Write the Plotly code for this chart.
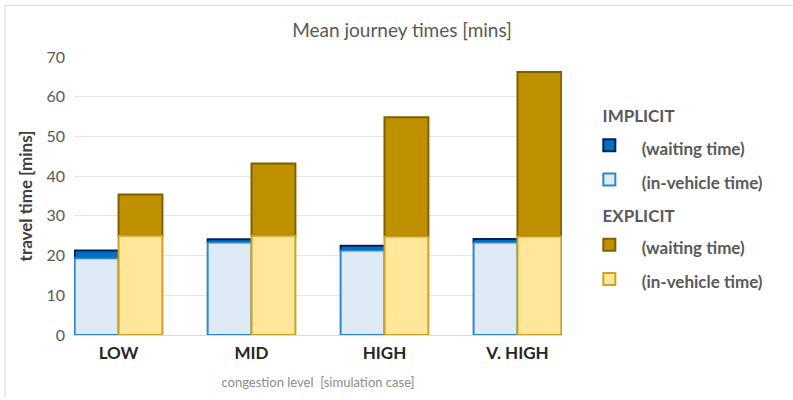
import plotly.graph_objects as go

# congestion cases and mean journey time components [mins]
cases = ["LOW", "MID", "HIGH", "V. HIGH"]
implicit_in_vehicle = [19.3, 23.3, 21.3, 23.3]
implicit_waiting = [2.0, 0.8, 1.2, 0.9]
explicit_in_vehicle = [25.0, 25.0, 24.8, 24.8]
explicit_waiting = [10.4, 18.2, 30.0, 41.4]

y_ticks = [0, 10, 20, 30, 40, 50, 60, 70]

FONT = "Lato"
GREY = "#595959"

fig = go.Figure()


def legend_label(text):
    # smaller visible text inside a tall legend row
    return ('<span style="font-size:17px">&nbsp;&nbsp;&nbsp;' + text + "</span>")


def add_bar(name, values, base, group, fill, edge, legendgroup, group_title):
    fig.add_trace(go.Bar(
        x=cases,
        y=values,
        base=base,
        name=legend_label(name),
        offsetgroup=group,
        marker=dict(color=fill, line=dict(color=edge, width=2)),
        legendgroup=legendgroup,
        legendgrouptitle=dict(text="&nbsp;&nbsp;" + group_title,
                              font=dict(family=FONT, size=17, color=GREY, weight="bold")),
        hovertemplate="%{x}: %{y}<extra></extra>",
    ))


add_bar("(waiting time)", implicit_waiting, implicit_in_vehicle, "imp",
        "#0070C0", "#002060", "implicit", "IMPLICIT")
add_bar("(in-vehicle time)", implicit_in_vehicle, None, "imp",
        "#DEEBF7", "#2E86D0", "implicit", "IMPLICIT")
add_bar("(waiting time)", explicit_waiting, explicit_in_vehicle, "exp",
        "#BF9000", "#7F6000", "explicit", "EXPLICIT")
add_bar("(in-vehicle time)", explicit_in_vehicle, None, "exp",
        "#FFE699", "#C9A227", "explicit", "EXPLICIT")

fig.update_layout(
    width=793,
    height=400,
    margin=dict(l=74, r=231, t=57, b=63),
    paper_bgcolor="white",
    plot_bgcolor="white",
    barmode="group",
    bargap=0.34,
    bargroupgap=0,
    font=dict(family=FONT, color=GREY),
    title=dict(text="Mean journey times [mins]", x=0.507, xref="container",
               y=0.925, yref="container", xanchor="center", yanchor="middle",
               font=dict(family=FONT, size=19, color=GREY)),
    xaxis=dict(
        type="category",
        range=[-0.335, 3.335],
        showgrid=False,
        showline=True,
        linecolor="#d9d9d9",
        ticks="",
        ticklabelstandoff=3,
        tickfont=dict(family=FONT, size=17, color="#262626", weight="bold"),
        title=dict(text="congestion level  [simulation case]",
                   font=dict(family=FONT, size=13, color="#8c8c8c"), standoff=15),
    ),
    yaxis=dict(
        range=[0, 70],
        tickvals=y_ticks,
        showgrid=True,
        gridcolor="#e6e6e6",
        gridwidth=1,
        zeroline=False,
        showline=False,
        ticks="",
        ticklabelstandoff=8,
        tickfont=dict(family=FONT, size=16, color=GREY),
        title=dict(text="travel time [mins]",
                   font=dict(family=FONT, size=17, color="#404040", weight="bold"),
                   standoff=9),
    ),
    legend=dict(
        x=1.056, xanchor="left",
        y=0.852, yanchor="top",
        traceorder="grouped",
        tracegroupgap=6,
        font=dict(family=FONT, size=24, color=GREY, weight="bold"),
        bgcolor="rgba(0,0,0,0)",
    ),
    shapes=[
        dict(type="line", xref="paper", yref="paper",
             x0=-69 / 488, x1=1 + 231 / 488, y0=1 + 52 / 280, y1=1 + 52 / 280,
             line=dict(color="#d9d9d9", width=1)),
        dict(type="line", xref="paper", yref="paper",
             x0=-69 / 488, x1=-69 / 488, y0=-63 / 280, y1=1 + 52 / 280,
             line=dict(color="#d9d9d9", width=1)),
    ],
)

fig.write_html("out.html")
